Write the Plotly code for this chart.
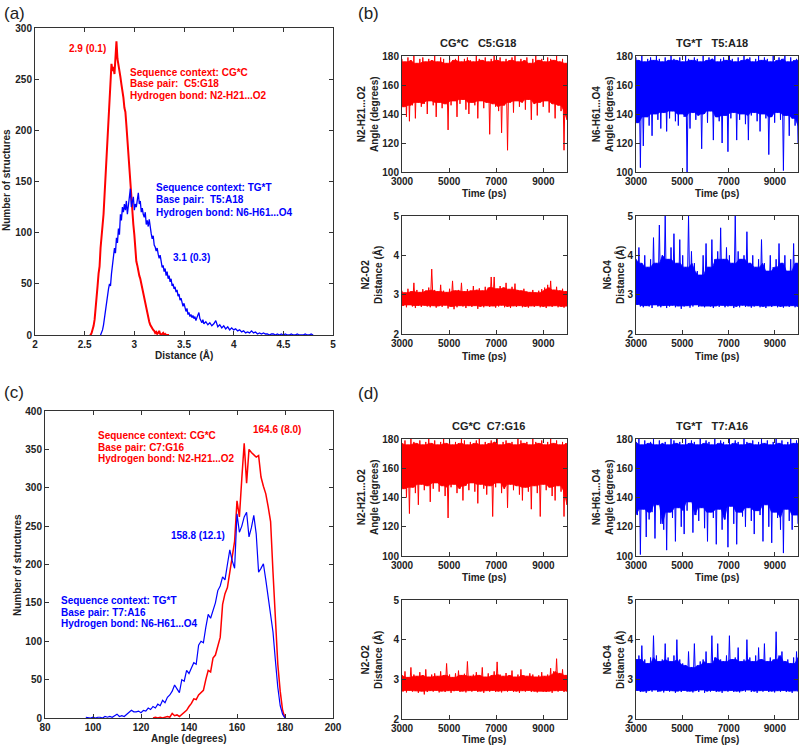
import numpy as np
import plotly.graph_objects as go

W, H = 800, 746
RED = "#ff0000"
BLUE = "#0000ff"
INK = "#222222"
FONT = "Arial, Liberation Sans, Helvetica, sans-serif"

# ---------------- Panel (a): distance histograms ----------------
a_red_start, a_red_step = 2.55, 0.01
a_red_counts = [0, 0, 2, 5, 9,
                15, 24, 36, 48, 60, 67, 85, 100, 107, 118,
                135, 155, 172, 190, 212, 232, 245, 265, 258, 262,
                255, 268, 287, 270, 262, 255, 252, 245, 240, 232,
                222, 218, 205, 190, 178, 160, 145, 132, 120, 108,
                98, 82, 72, 68, 62, 58, 55, 50, 46, 42,
                36, 30, 25, 20, 17, 13, 10, 8, 6, 5,
                4, 2, 3, 1, 2, 4, 1, 0, 1, 2,
                0, 1, 0, 0, 0, 0]
a_blue_start, a_blue_step = 2.66, 0.01
a_blue_counts = [0, 2, 5, 10,
                 18, 25, 34, 38, 45, 50, 48, 60, 68, 73,
                 85, 80, 95, 90, 104, 98, 118, 112, 125, 120,
                 128, 122, 131, 118, 126, 132, 143, 125, 130, 135,
                 122, 128, 125, 133, 139, 128, 131, 120, 124, 118,
                 115, 120, 108, 112, 106, 113, 104, 99, 94, 97,
                 88, 86, 82, 85, 79, 75, 78, 70, 66, 68,
                 62, 65, 58, 62, 55, 58, 52, 55, 48, 50,
                 45, 47, 42, 44, 38, 40, 34, 36, 30, 28,
                 31, 25, 23, 26, 20, 22, 18, 20, 17, 19,
                 16, 18, 14, 17, 20, 22, 16, 14, 12, 15, 11]
a_blue_tail_start, a_blue_tail_step = 3.72, 0.02
a_blue_tail_counts = [13, 10, 12, 9, 11, 14, 8, 10, 7, 9,
                      6, 8, 5, 7, 5, 6, 4, 5, 3, 4,
                      2, 3, 2, 4, 2, 3, 1, 2, 1, 2,
                      1, 1, 0, 1, 1, 0, 1, 0, 1, 0,
                      1, 0, 0, 1, 0, 0, 1, 0, 0, 0,
                      1, 0, 0, 1, 0]

# ---------------- Panel (c): angle histograms ----------------
c_red_start = 125
c_red_counts = [0, 1, 0, 1, 0,
                1, 2, 1, 6, 3, 4, 2, 5, 8, 10,
                15, 19, 25, 24, 30, 33, 36, 50, 62, 60,
                78, 82, 95, 105, 148, 162, 170, 192, 210, 230,
                283, 262, 312, 358, 306, 350, 346, 343, 340, 342,
                314, 302, 292, 275, 256, 190, 120, 70, 35, 10, 0]
c_blue_start = 97
c_blue_counts = [1, 0, 0,
                 1, 0, 1, 1, 0, 2, 1, 2, 1, 3,
                 5, 2, 3, 2, 5, 7, 10, 8, 8, 9,
                 7, 10, 9, 13, 11, 15, 13, 18, 16, 23,
                 20, 27, 30, 35, 43, 38, 33, 50, 48, 62,
                 58, 65, 72, 70, 95, 100, 98, 118, 135, 130,
                 140, 150, 166, 172, 184, 180, 200, 219, 205, 195,
                 266, 242, 250, 262, 268, 236, 248, 264, 240, 190,
                 195, 201, 180, 155, 135, 112, 75, 40, 16, 5, 0]

# ---------------- Time series (local maxima / minima read per ~125 ps) ----------------
t_start, t_end = 3000, 10000

b_cg_angle_hi = [178, 176, 179, 177, 180, 175, 178, 179,
                 176, 178, 177, 180, 176, 179, 178, 175,
                 179, 177, 178, 180, 176, 178, 179, 177,
                 176, 180, 178, 177, 179, 176, 178, 180,
                 177, 179, 176, 178, 177, 179, 180, 176,
                 178, 177, 179, 175, 178, 180, 177, 178,
                 176, 179, 178, 177, 180, 176, 178, 175]
b_cg_angle_lo = [145, 138, 135, 146, 137, 148, 145, 147,
                 140, 149, 146, 138, 148, 144, 147, 129,
                 146, 149, 138, 147, 150, 143, 140, 148,
                 146, 137, 149, 144, 148, 126, 147, 145,
                 142, 127, 146, 115, 148, 141, 149, 145,
                 148, 143, 150, 136, 147, 139, 148, 145,
                 149, 141, 147, 137, 146, 142, 115, 136]
b_tg_angle_hi = [179, 177, 180, 176, 178, 179, 177, 180,
                 178, 176, 179, 177, 180, 178, 177, 179,
                 176, 180, 178, 177, 179, 178, 176, 180,
                 177, 179, 178, 180, 176, 178, 179, 177,
                 180, 178, 176, 179, 177, 180, 178, 179,
                 176, 178, 180, 177, 179, 178, 176, 180,
                 177, 179, 178, 180, 176, 179, 177, 178]
b_tg_angle_lo = [134, 103, 118, 138, 132, 125, 140, 136,
                 130, 141, 128, 137, 142, 135, 132, 140,
                 138, 100, 130, 141, 136, 139, 116, 140,
                 134, 142, 122, 138, 135, 120, 139, 114,
                 137, 141, 122, 136, 140, 133, 122, 139,
                 141, 135, 128, 140, 137, 112, 138, 134,
                 141, 136, 101, 139, 125, 137, 132, 120]
b_cg_dist_hi = [3.10, 3.05, 3.15, 3.08, 3.30, 3.12, 3.06, 3.14,
                3.10, 3.18, 3.65, 3.12, 3.08, 3.25, 3.10, 3.06,
                3.15, 3.35, 3.10, 3.12, 3.30, 3.08, 3.14, 3.10,
                3.22, 3.12, 3.16, 3.10, 3.20, 3.18, 3.45, 3.45,
                3.15, 3.22, 3.18, 3.30, 3.14, 3.20, 3.28, 3.12,
                3.10, 3.15, 3.08, 3.06, 3.12, 3.05, 3.10, 3.14,
                3.18, 3.25, 3.35, 3.12, 3.20, 3.10, 3.15, 3.08]
b_cg_dist_lo = [2.72, 2.68, 2.74, 2.70, 2.66, 2.72, 2.69, 2.73,
                2.70, 2.68, 2.72, 2.67, 2.71, 2.69, 2.73, 2.65,
                2.70, 2.63, 2.68, 2.72, 2.70, 2.66, 2.71, 2.69,
                2.72, 2.64, 2.70, 2.68, 2.72, 2.69, 2.71, 2.67,
                2.70, 2.73, 2.68, 2.70, 2.66, 2.71, 2.69, 2.72,
                2.68, 2.70, 2.67, 2.71, 2.69, 2.72, 2.68, 2.70,
                2.66, 2.71, 2.69, 2.72, 2.68, 2.70, 2.67, 2.71]
b_tg_dist_hi = [3.90, 4.20, 3.80, 4.00, 3.70, 3.90, 4.45, 3.80,
                4.77, 4.00, 5.00, 3.90, 4.20, 4.55, 3.80, 4.40,
                4.00, 3.70, 5.00, 4.10, 3.80, 3.60, 3.50, 4.00,
                4.30, 3.70, 4.40, 3.90, 4.10, 4.70, 3.90, 4.20,
                4.00, 3.80, 5.00, 4.10, 3.90, 4.00, 4.60, 3.80,
                4.00, 3.70, 3.90, 4.40, 3.80, 3.60, 4.00, 3.70,
                3.90, 4.30, 3.80, 4.00, 3.60, 3.90, 4.30, 3.80]
b_tg_dist_lo = [2.75, 2.70, 2.68, 2.72, 2.70, 2.66, 2.74, 2.70,
                2.68, 2.72, 2.66, 2.70, 2.73, 2.68, 2.71, 2.64,
                2.70, 2.72, 2.67, 2.70, 2.74, 2.69, 2.71, 2.68,
                2.72, 2.70, 2.66, 2.71, 2.69, 2.73, 2.68, 2.70,
                2.72, 2.66, 2.70, 2.68, 2.73, 2.69, 2.71, 2.67,
                2.70, 2.72, 2.68, 2.70, 2.66, 2.71, 2.69, 2.72,
                2.68, 2.70, 2.67, 2.71, 2.69, 2.72, 2.68, 2.70]

d_cg_angle_hi = [177, 179, 176, 180, 178, 177, 179, 176,
                 178, 180, 177, 179, 176, 178, 180, 177,
                 179, 176, 178, 177, 180, 179, 176, 178,
                 177, 179, 180, 176, 178, 177, 179, 178,
                 180, 176, 178, 179, 177, 178, 176, 180,
                 179, 177, 178, 176, 180, 178, 177, 179,
                 176, 178, 180, 177, 179, 176, 178, 177]
d_cg_angle_lo = [146, 140, 129, 147, 143, 135, 149, 145,
                 148, 137, 146, 150, 144, 148, 141, 126,
                 147, 149, 143, 146, 138, 148, 145, 150,
                 144, 136, 149, 146, 142, 148, 127, 147,
                 150, 143, 146, 133, 149, 145, 148, 142,
                 138, 147, 144, 132, 148, 143, 127, 149,
                 145, 147, 141, 138, 148, 144, 127, 135]
d_tg_angle_hi = [178, 180, 176, 179, 177, 178, 180, 176,
                 179, 177, 178, 176, 180, 179, 177, 178,
                 176, 180, 177, 179, 178, 176, 180, 177,
                 179, 178, 176, 180, 177, 179, 178, 176,
                 180, 177, 179, 178, 176, 180, 178, 177,
                 179, 176, 178, 180, 177, 179, 176, 178,
                 180, 177, 179, 176, 178, 180, 177, 179]
d_tg_angle_lo = [128, 101, 132, 113, 125, 130, 112, 135,
                 122, 118, 104, 130, 126, 110, 133, 120,
                 115, 131, 137, 116, 128, 124, 133, 119,
                 110, 130, 126, 108, 132, 118, 125, 106,
                 134, 122, 108, 130, 127, 120, 133, 124,
                 115, 131, 128, 110, 135, 120, 109, 130,
                 126, 118, 102, 132, 124, 118, 128, 122]
d_cg_dist_hi = [3.10, 3.20, 3.05, 3.30, 3.12, 3.08, 3.18, 3.10,
                3.25, 3.06, 3.12, 3.15, 3.08, 3.20, 3.10, 3.40,
                3.12, 3.05, 3.15, 3.22, 3.10, 3.14, 3.45, 3.08,
                3.12, 3.18, 3.10, 3.30, 3.06, 3.15, 3.10, 3.20,
                3.44, 3.12, 3.08, 3.16, 3.10, 3.22, 3.06, 3.12,
                3.25, 3.10, 3.08, 3.15, 3.12, 3.06, 3.10, 3.18,
                3.08, 3.12, 3.28, 3.20, 3.52, 3.15, 3.25, 3.10]
d_cg_dist_lo = [2.70, 2.67, 2.72, 2.69, 2.71, 2.66, 2.70, 2.62,
                2.68, 2.71, 2.69, 2.72, 2.67, 2.70, 2.68, 2.71,
                2.66, 2.70, 2.72, 2.68, 2.70, 2.67, 2.71, 2.69,
                2.72, 2.68, 2.70, 2.66, 2.71, 2.69, 2.72, 2.68,
                2.70, 2.67, 2.71, 2.69, 2.72, 2.68, 2.70, 2.66,
                2.71, 2.69, 2.72, 2.68, 2.70, 2.67, 2.71, 2.69,
                2.68, 2.70, 2.66, 2.71, 2.69, 2.72, 2.68, 2.70]
d_tg_dist_hi = [3.50, 3.60, 3.85, 3.50, 3.40, 3.55, 4.10, 3.60,
                3.45, 3.50, 3.90, 3.55, 3.45, 3.60, 4.00, 3.50,
                3.40, 3.35, 3.70, 3.30, 3.90, 3.35, 3.45, 3.50,
                3.70, 3.40, 4.10, 3.55, 3.90, 3.50, 3.45, 3.60,
                4.10, 3.50, 3.55, 3.80, 3.45, 3.50, 4.00, 3.55,
                3.45, 3.60, 3.80, 3.50, 3.90, 3.45, 3.55, 3.50,
                4.20, 3.60, 3.70, 3.45, 3.50, 3.40, 3.55, 3.70]
d_tg_dist_lo = [2.72, 2.68, 2.70, 2.66, 2.71, 2.69, 2.73, 2.68,
                2.70, 2.67, 2.72, 2.69, 2.71, 2.66, 2.70, 2.68,
                2.72, 2.69, 2.70, 2.67, 2.71, 2.68, 2.73, 2.66,
                2.70, 2.69, 2.72, 2.68, 2.70, 2.66, 2.71, 2.69,
                2.72, 2.68, 2.70, 2.67, 2.71, 2.69, 2.73, 2.68,
                2.70, 2.66, 2.71, 2.69, 2.72, 2.68, 2.70, 2.67,
                2.71, 2.69, 2.72, 2.68, 2.70, 2.66, 2.71, 2.69]

# ---------------- helpers ----------------
fig = go.Figure()


def px_x(px):
    return px / W


def px_y(py):
    return 1 - py / H


def bins(start, step, counts):
    return np.round(start + step * np.arange(len(counts)), 3)


def line(x, y, color, width, ax):
    fig.add_trace(go.Scatter(x=x, y=y, mode="lines", line=dict(color=color, width=width),
                             xaxis="x" + ax, yaxis="y" + ax, showlegend=False, hoverinfo="skip"))


def series(hi, lo, color, ax):
    """Dense MD trace: solid core band (where neighbouring extremes overlap) + zigzag of the read extremes."""
    n = min(len(hi), len(lo))
    hi = np.asarray(hi[:n], float)
    lo = np.asarray(lo[:n], float)
    y = np.empty(2 * n)
    y[0::2] = hi
    y[1::2] = lo
    t = np.linspace(t_start, t_end, 2 * n)
    hp = np.pad(hi, 1, mode="edge")
    lp = np.pad(lo, 1, mode="edge")
    core_hi = np.minimum(np.minimum(hp[:-2], hp[1:-1]), hp[2:])
    core_lo = np.maximum(np.maximum(lp[:-2], lp[1:-1]), lp[2:])
    tc = np.linspace(t_start, t_end, n)
    fig.add_trace(go.Scatter(x=np.concatenate([tc, tc[::-1]]),
                             y=np.concatenate([core_hi, core_lo[::-1]]),
                             mode="lines", fill="toself", fillcolor=color,
                             line=dict(color=color, width=0.8),
                             xaxis="x" + ax, yaxis="y" + ax, showlegend=False, hoverinfo="skip"))
    line(t, y, color, 1.0, ax)


def text(t, x, y, color=INK, size=10, bold=True, xanchor="center", yanchor="middle",
         angle=0, xref="paper", yref="paper"):
    if xref == "paper":
        x = px_x(x)
    if yref == "paper":
        y = px_y(y)
    fig.add_annotation(text=t, x=x, y=y, xref=xref, yref=yref, showarrow=False,
                       xanchor=xanchor, yanchor=yanchor, textangle=angle,
                       font=dict(family=FONT, size=size, color=color,
                                 weight="bold" if bold else "normal"))


axis_base = dict(showline=True, linecolor="#333", linewidth=1, mirror="ticks",
                 ticks="inside", ticklen=4, tickcolor="#333", showgrid=False,
                 zeroline=False, automargin=False,
                 tickfont=dict(family=FONT, size=10, color=INK, weight="bold"))


def set_axes(idx, xdom_px, ydom_px, xrange, yrange, xticks, yticks, xfmt=None):
    sx = "xaxis" if idx == 1 else "xaxis%d" % idx
    sy = "yaxis" if idx == 1 else "yaxis%d" % idx
    anc = "" if idx == 1 else str(idx)
    xa = dict(axis_base, domain=[px_x(xdom_px[0]), px_x(xdom_px[1])], range=xrange,
              tickvals=xticks, anchor="y" + anc)
    if xfmt:
        xa["tickformat"] = xfmt
    ya = dict(axis_base, domain=[px_y(ydom_px[1]), px_y(ydom_px[0])], range=yrange,
              tickvals=yticks, anchor="x" + anc)
    fig.update_layout({sx: xa, sy: ya})


# ---------------- panel (a) ----------------
set_axes(1, (35, 333), (28, 335), [2, 5], [0, 300],
         [2, 2.5, 3, 3.5, 4, 4.5, 5], [0, 50, 100, 150, 200, 250, 300])
line(bins(a_red_start, a_red_step, a_red_counts), a_red_counts, RED, 2, "")
blue_x = np.concatenate([bins(a_blue_start, a_blue_step, a_blue_counts),
                         bins(a_blue_tail_start, a_blue_tail_step, a_blue_tail_counts)])
line(blue_x, a_blue_counts + a_blue_tail_counts, BLUE, 1.3, "")

text("2.9 (0.1)", 2.53, 280, RED, xref="x", yref="y")
text("Sequence context: CG*C", 2.936, 257, RED, xanchor="left", xref="x", yref="y")
text("Base pair:\u00a0 C5:G18", 2.936, 245.4, RED, xanchor="left", xref="x", yref="y")
text("Hydrogen bond: N2-H21...O2", 2.936, 233.6, RED, xanchor="left", xref="x", yref="y")
text("Sequence context: TG*T", 3.198, 143.7, BLUE, xanchor="left", xref="x", yref="y")
text("Base pair:\u00a0 T5:A18", 3.198, 132.0, BLUE, xanchor="left", xref="x", yref="y")
text("Hydrogen bond: N6-H61...O4", 3.198, 120.2, BLUE, xanchor="left", xref="x", yref="y")
text("3.1 (0.3)", 3.571, 76, BLUE, xref="x", yref="y")
text("Distance (Å)", 184, 355)
text("Number of structures", 7, 180, angle=-90)
text("(a)", 14, 13, size=17, bold=False)

# ---------------- panel (b) ----------------
TIME_TICKS = [3000, 5000, 7000, 9000]
ANG_TICKS = [100, 120, 140, 160, 180]
DIST_TICKS = [2, 3, 4, 5]
set_axes(2, (402, 567), (56, 172), [3000, 10000], [100, 180], TIME_TICKS, ANG_TICKS, "d")
set_axes(3, (636, 798), (56, 172), [3000, 10000], [100, 180], TIME_TICKS, ANG_TICKS, "d")
set_axes(4, (402, 567), (216, 334), [3000, 10000], [2, 5], TIME_TICKS, DIST_TICKS, "d")
set_axes(5, (636, 798), (216, 334), [3000, 10000], [2, 5], TIME_TICKS, DIST_TICKS, "d")
series(b_cg_angle_hi, b_cg_angle_lo, RED, "2")
series(b_tg_angle_hi, b_tg_angle_lo, BLUE, "3")
series(b_cg_dist_hi, b_cg_dist_lo, RED, "4")
series(b_tg_dist_hi, b_tg_dist_lo, BLUE, "5")

text("(b)", 368, 13, size=17, bold=False)
text("CG*C\u00a0\u00a0 C5:G18", 478, 43, size=11)
text("TG*T\u00a0\u00a0 T5:A18", 712, 43, size=11)
text("N2-H21...O2<br>Angle (degrees)", 368, 114, angle=-90)
text("N6-H61...O4<br>Angle (degrees)", 603, 114, angle=-90)
text("N2-O2<br>Distance (Å)", 372, 275, angle=-90)
text("N6-O4<br>Distance (Å)", 614, 275, angle=-90)
text("Time (ps)", 484, 194)
text("Time (ps)", 717, 194)
text("Time (ps)", 484, 356)
text("Time (ps)", 717, 356)

# ---------------- panel (c) ----------------
set_axes(6, (45, 333), (411, 718), [80, 200], [0, 400],
         [80, 100, 120, 140, 160, 180, 200], [0, 50, 100, 150, 200, 250, 300, 350, 400])
line(bins(c_red_start, 1, c_red_counts), c_red_counts, RED, 1.5, "6")
line(bins(c_blue_start, 1, c_blue_counts), c_blue_counts, BLUE, 1.2, "6")

text("Sequence context: CG*C", 101.3, 368.7, RED, xanchor="left", xref="x6", yref="y6")
text("Base pair: C7:G16", 101.3, 353.1, RED, xanchor="left", xref="x6", yref="y6")
text("Hydrogen bond: N2-H21...O2", 101.3, 337.5, RED, xanchor="left", xref="x6", yref="y6")
text("164.6 (8.0)", 176.5, 376, RED, xref="x6", yref="y6")
text("158.8 (12.1)", 143.9, 238.4, BLUE, xref="x6", yref="y6")
text("Sequence context: TG*T", 86.0, 153.7, BLUE, xanchor="left", xref="x6", yref="y6")
text("Base pair: T7:A16", 86.0, 137.7, BLUE, xanchor="left", xref="x6", yref="y6")
text("Hydrogen bond: N6-H61...O4", 86.0, 122.5, BLUE, xanchor="left", xref="x6", yref="y6")
text("Angle (degrees)", 189, 738)
text("Number of structures", 17, 565, angle=-90)
text("(c)", 14, 392, size=17, bold=False)

# ---------------- panel (d) ----------------
set_axes(7, (402, 567), (439, 556), [3000, 10000], [100, 180], TIME_TICKS, ANG_TICKS, "d")
set_axes(8, (636, 798), (439, 556), [3000, 10000], [100, 180], TIME_TICKS, ANG_TICKS, "d")
set_axes(9, (402, 567), (600, 719), [3000, 10000], [2, 5], TIME_TICKS, DIST_TICKS, "d")
set_axes(10, (636, 798), (600, 719), [3000, 10000], [2, 5], TIME_TICKS, DIST_TICKS, "d")
series(d_cg_angle_hi, d_cg_angle_lo, RED, "7")
series(d_tg_angle_hi, d_tg_angle_lo, BLUE, "8")
series(d_cg_dist_hi, d_cg_dist_lo, RED, "9")
series(d_tg_dist_hi, d_tg_dist_lo, BLUE, "10")

text("(d)", 368, 393, size=17, bold=False)
text("CG*C\u00a0 C7:G16", 488, 426, size=11)
text("TG*T\u00a0\u00a0 T7:A16", 712, 426, size=11)
text("N2-H21...O2<br>Angle (degrees)", 368, 497, angle=-90)
text("N6-H61...O4<br>Angle (degrees)", 603, 497, angle=-90)
text("N2-O2<br>Distance (Å)", 372, 660, angle=-90)
text("N6-O4<br>Distance (Å)", 614, 660, angle=-90)
text("Time (ps)", 484, 577)
text("Time (ps)", 717, 577)
text("Time (ps)", 484, 739)
text("Time (ps)", 717, 739)

fig.update_layout(width=W, height=H, margin=dict(l=0, r=0, t=0, b=0, autoexpand=False),
                  paper_bgcolor="white", plot_bgcolor="white", showlegend=False,
                  font=dict(family=FONT, color=INK))

# remove the browser's default 8px body margin so the 800x746 figure fills the window
fig.write_html("out.html", config={"displayModeBar": False},
               post_script="document.body.style.margin='0';document.body.style.overflow='hidden';")
